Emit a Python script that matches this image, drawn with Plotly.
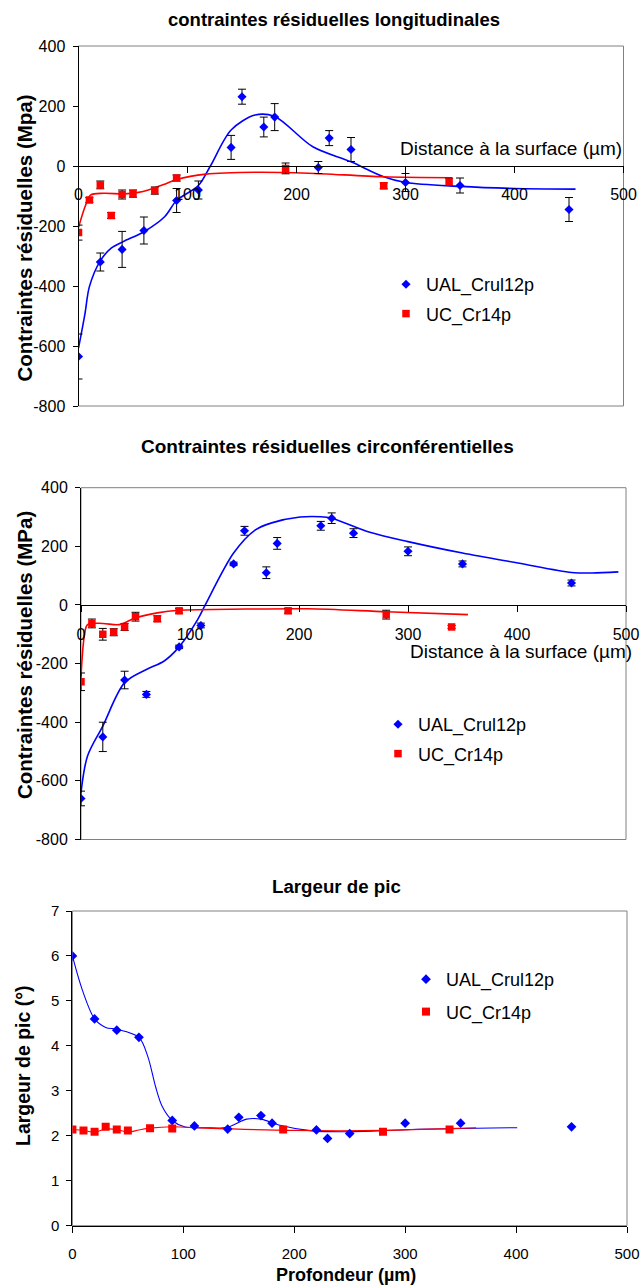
import plotly.graph_objects as go

W, H = 644, 1286
FONT = "Liberation Sans, Arial, sans-serif"
BLUE = "#0000FF"
RED = "#FF0000"

# ---------------- Chart 1 : contraintes longitudinales ----------------
x1_ual = [0, 20, 40, 60, 90, 110, 140, 150, 170, 180, 220, 230, 250, 300, 350, 450]
y1_ual = [-635, -320, -278, -215, -115, -80, 62, 231, 130, 163, -5, 93, 55, -55, -65, -145]
e1_ual = [75, 30, 60, 45, 40, 30, 40, 25, 33, 45, 20, 25, 40, 30, 25, 40]
x1_uc = [0, 10, 20, 30, 40, 50, 70, 90, 190, 280, 340]
y1_uc = [-222, -113, -63, -165, -95, -92, -82, -40, -8, -66, -53]
e1_uc = [25, 8, 13, 10, 15, 12, 12, 10, 18, 10, 12]
c1_ual_x = [0, 6, 10, 20, 30, 41, 60, 79, 90, 110, 121, 140, 162, 180, 215, 250, 280, 300, 350, 400, 456]
c1_ual_y = [-607, -491, -402, -316, -274, -252, -219, -169, -115, -65, 0, 120, 170, 165, 64, 14, -36, -55, -68, -75, -77]
c1_uc_x = [0, 6, 11, 23, 42, 55, 64, 78, 90, 117, 162, 211, 280, 343]
c1_uc_y = [-205, -136, -97, -91, -93, -88, -80, -62, -45, -27, -21, -24, -36, -39]

# ---------------- Chart 2 : contraintes circonférentielles ----------------
x2_ual = [0, 20, 40, 60, 90, 110, 140, 150, 170, 180, 220, 230, 250, 300, 350, 450]
y2_ual = [-660, -450, -256, -305, -143, -70, 140, 253, 110, 210, 270, 296, 245, 183, 140, 75]
e2_ual = [25, 50, 30, 10, 6, 8, 6, 15, 20, 20, 15, 18, 15, 15, 10, 10]
x2_uc = [0, 10, 20, 30, 40, 50, 70, 90, 190, 280, 340]
y2_uc = [-262, -63, -100, -93, -75, -40, -47, -20, -20, -33, -75]
e2_uc = [30, 15, 20, 12, 12, 15, 10, 8, 8, 15, 5]
c2_ual_x = [0, 6, 20, 40, 60, 76, 90, 107, 114, 140, 160, 175, 201, 220, 230, 265, 300, 350, 401, 450, 469, 493]
c2_ual_y = [-640, -515, -413, -265, -220, -192, -143, -50, 0, 177, 256, 280, 300, 301, 296, 248, 216, 177, 143, 111, 109, 113]
c2_uc_x = [0, 3, 6, 20, 35, 50, 70, 90, 152, 208, 280, 355]
c2_uc_y = [-243, -107, -67, -63, -67, -44, -27, -18, -14, -13, -23, -33]

# ---------------- Chart 3 : largeur de pic ----------------
x3_ual = [0, 20, 40, 60, 90, 110, 140, 150, 170, 180, 220, 230, 250, 300, 350, 450]
y3_ual = [6.0, 4.60, 4.35, 4.19, 2.34, 2.22, 2.15, 2.41, 2.45, 2.28, 2.13, 1.94, 2.05, 2.28, 2.28, 2.20]
x3_uc = [0, 10, 20, 30, 40, 50, 70, 90, 190, 280, 340]
y3_uc = [2.14, 2.12, 2.09, 2.20, 2.14, 2.12, 2.17, 2.16, 2.14, 2.09, 2.14]
c3_ual_x = [0, 9, 20, 30, 40, 60, 68, 75, 81, 90, 101, 120, 140, 157, 170, 186, 216, 250, 305, 401]
c3_ual_y = [6.0, 5.24, 4.60, 4.41, 4.37, 4.19, 3.76, 3.09, 2.65, 2.34, 2.20, 2.18, 2.19, 2.37, 2.37, 2.24, 2.11, 2.09, 2.14, 2.18]
c3_uc_x = [0, 10, 20, 30, 40, 50, 60, 70, 90, 120, 200, 280, 340, 364]
c3_uc_y = [2.14, 2.12, 2.08, 2.15, 2.14, 2.08, 2.13, 2.17, 2.20, 2.17, 2.12, 2.12, 2.16, 2.18]

# ---------------- labels ----------------
names = ["UAL_Crul12p", "UC_Cr14p"]
titles = ["contraintes résiduelles longitudinales",
          "Contraintes résiduelles circonférentielles",
          "Largeur de pic"]
ytitles = ["Contraintes résiduelles (Mpa)", "Contraintes résiduelles (MPa)", "Largeur de pic (°)"]
xtitles = ["Distance à la surface (µm)", "Distance à la surface (µm)", "Profondeur (µm)"]
xticks = [0, 100, 200, 300, 400, 500]
xticktext = ["0", "100", "200", "300", "400", "500"]
yticks_stress = [-800, -600, -400, -200, 0, 200, 400]
yticktext_stress = ["-800", "-600", "-400", "-200", "0", "200", "400"]
yticks_width = [0, 1, 2, 3, 4, 5, 6, 7]
yticktext_width = ["0", "1", "2", "3", "4", "5", "6", "7"]


def px_x(p):
    return p / W


def px_y(p):
    return 1 - p / H


fig = go.Figure()

charts = [
    dict(xa="x", ya="y", leg="legend", xu=x1_ual, yu=y1_ual, eu=e1_ual, xc=x1_uc, yc=y1_uc, ec=e1_uc,
         cux=c1_ual_x, cuy=c1_ual_y, ccx=c1_uc_x, ccy=c1_uc_y, lw=1.6, ms=7),
    dict(xa="x2", ya="y2", leg="legend2", xu=x2_ual, yu=y2_ual, eu=e2_ual, xc=x2_uc, yc=y2_uc, ec=e2_uc,
         cux=c2_ual_x, cuy=c2_ual_y, ccx=c2_uc_x, ccy=c2_uc_y, lw=1.6, ms=7),
    dict(xa="x3", ya="y3", leg="legend3", xu=x3_ual, yu=y3_ual, eu=None, xc=x3_uc, yc=y3_uc, ec=None,
         cux=c3_ual_x, cuy=c3_ual_y, ccx=c3_uc_x, ccy=c3_uc_y, lw=1.1, ms=7.5),
]

for c in charts:
    fig.add_trace(go.Scatter(x=c["cux"], y=c["cuy"], mode="lines", line=dict(color=BLUE, width=c["lw"], shape="spline", smoothing=0.9),
                             xaxis=c["xa"], yaxis=c["ya"], showlegend=False, hoverinfo="skip"))
    fig.add_trace(go.Scatter(x=c["ccx"], y=c["ccy"], mode="lines", line=dict(color=RED, width=c["lw"], shape="spline", smoothing=0.9),
                             xaxis=c["xa"], yaxis=c["ya"], showlegend=False, hoverinfo="skip"))
    eu = dict(type="data", array=c["eu"], color="black", thickness=1, width=4) if c["eu"] else None
    ec = dict(type="data", array=c["ec"], color="black", thickness=1, width=4) if c["ec"] else None
    fig.add_trace(go.Scatter(x=c["xu"], y=c["yu"], mode="markers", name=names[0], error_y=eu,
                             marker=dict(symbol="diamond", size=c["ms"], color=BLUE),
                             xaxis=c["xa"], yaxis=c["ya"], legend=c["leg"], legendgroup="a"))
    fig.add_trace(go.Scatter(x=c["xc"], y=c["yc"], mode="markers", name=names[1], error_y=ec,
                             marker=dict(symbol="square", size=c["ms"] + 0.5, color=RED),
                             xaxis=c["xa"], yaxis=c["ya"], legend=c["leg"], legendgroup="b"))

# plot-area geometry (pixels)
geo = [
    dict(l=78.5, r=623.5, t=46, b=406),
    dict(l=81, r=626, t=487.7, b=839.5),
    dict(l=72.4, r=627, t=911, b=1225.7),
]
zero_px = [166, 605.3, 1225.7]
tickfs = [16, 16, 15]

axcommon = dict(showgrid=False, zeroline=False, showline=True, linecolor="black", linewidth=1,
                ticks="outside", tickcolor="black", tickwidth=1, automargin=False,
                tickfont=dict(family=FONT, size=16, color="black"))

for i, g in enumerate(geo):
    sfx = "" if i == 0 else str(i + 1)
    xdom = [px_x(g["l"]), px_x(g["r"])]
    ydom = [px_y(g["b"]), px_y(g["t"])]
    xa = dict(axcommon)
    xa.update(domain=xdom, range=[0, 500], tickvals=xticks, ticktext=xticktext, ticklen=6,
              anchor="free", position=px_y(zero_px[i]), ticklabelstandoff=8,
              tickfont=dict(family=FONT, size=tickfs[i], color="black"))
    ya = dict(axcommon)
    if i < 2:
        ya.update(range=[-800, 400], tickvals=yticks_stress, ticktext=yticktext_stress)
    else:
        ya.update(range=[0, 7], tickvals=yticks_width, ticktext=yticktext_width)
    ya.update(domain=ydom, anchor="x" + sfx, ticklen=5, ticklabelstandoff=4,
              tickfont=dict(family=FONT, size=tickfs[i], color="black"))
    fig.layout["xaxis" + sfx] = xa
    fig.layout["yaxis" + sfx] = ya
    fig.add_shape(type="rect", xref="x" + sfx + " domain", yref="y" + sfx + " domain",
                  x0=0, x1=1, y0=0, y1=1, line=dict(color="#808080", width=1), layer="below")

# titles
title_pos = [(333.7, 19.3, 18.5), (327, 446.7, 19), (336.4, 886.7, 18.7)]
for t, (xp, yp, fs) in zip(titles, title_pos):
    fig.add_annotation(text="<b>" + t + "</b>", x=px_x(xp), y=px_y(yp), xref="paper", yref="paper",
                       xanchor="center", yanchor="middle", showarrow=False,
                       font=dict(family=FONT, size=fs, color="black"))

ytitle_pos = [(23.5, 238, 20.5), (24, 655, 20.5), (23, 1066, 19.5)]
for t, (xp, yp, fs) in zip(ytitles, ytitle_pos):
    fig.add_annotation(text="<b>" + t + "</b>", x=px_x(xp), y=px_y(yp), xref="paper", yref="paper",
                       xanchor="center", yanchor="middle", showarrow=False, textangle=-90,
                       font=dict(family=FONT, size=fs, color="black"))

# x titles
fig.add_annotation(text=xtitles[0], x=px_x(623.5), y=px_y(148.3), xref="paper", yref="paper",
                   xanchor="right", yanchor="middle", showarrow=False,
                   font=dict(family=FONT, size=19, color="black"))
fig.add_annotation(text=xtitles[1], x=px_x(633.7), y=px_y(651.7), xref="paper", yref="paper",
                   xanchor="right", yanchor="middle", showarrow=False,
                   font=dict(family=FONT, size=19, color="black"))
fig.add_annotation(text="<b>" + xtitles[2] + "</b>", x=px_x(345.7), y=px_y(1275), xref="paper", yref="paper",
                   xanchor="center", yanchor="middle", showarrow=False,
                   font=dict(family=FONT, size=18, color="black"))

legcommon = dict(xanchor="left", yanchor="top", bgcolor="rgba(0,0,0,0)", borderwidth=0,
                 font=dict(family=FONT, size=18, color="black"), itemwidth=30,
                 traceorder="grouped", tracegroupgap=3)
fig.update_layout(
    legend=dict(legcommon, x=px_x(386), y=px_y(266)),
    legend2=dict(legcommon, x=px_x(378), y=px_y(706)),
    legend3=dict(legcommon, x=px_x(406), y=px_y(961), tracegroupgap=6),
)

fig.update_layout(
    width=W, height=H, template="none",
    margin=dict(l=0, r=0, t=0, b=0, pad=0),
    paper_bgcolor="white", plot_bgcolor="white",
    font=dict(family=FONT, color="black"),
)

fig.write_html("out.html", config={"displayModeBar": False},
               post_script="document.body.style.margin='0';")
